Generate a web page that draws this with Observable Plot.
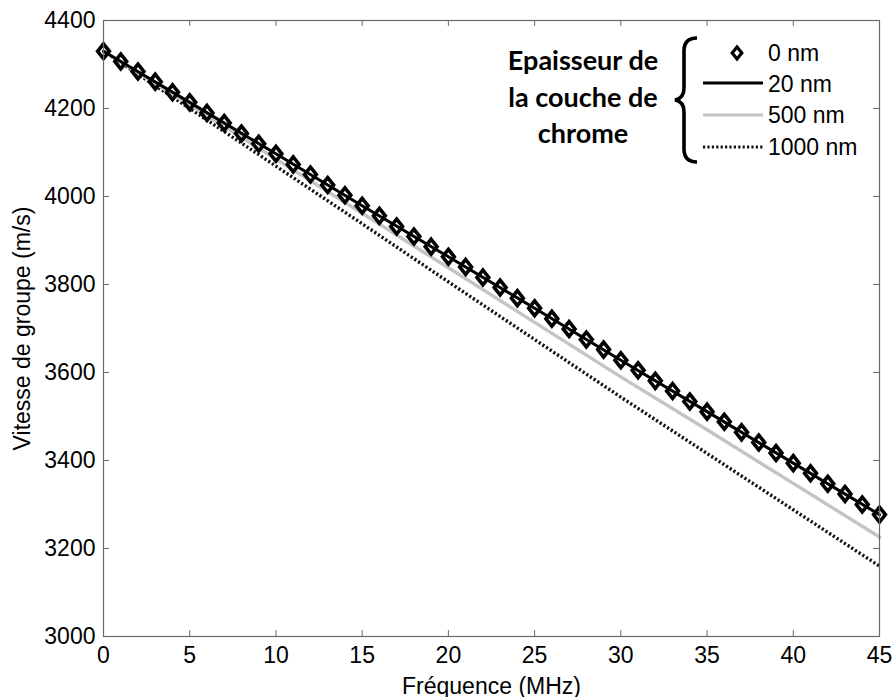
<!DOCTYPE html>
<html><head><meta charset="utf-8">
<script src="https://cdn.jsdelivr.net/npm/d3@7"></script>
<script src="https://cdn.jsdelivr.net/npm/@observablehq/plot@0.6"></script>
<style>
body{margin:0;background:#fff;}
#wrap{position:relative;width:894px;height:697px;}
#wrap svg{display:block;}
#legend{position:absolute;left:0;top:0;}
</style></head><body><div id="wrap"></div>
<script>
// Frequencies (MHz) of the 0 nm markers
const freqMarkers = [0,1,2,3,4,5,6,7,8,9,10,11,12,13,14,15,16,17,18,19,20,21,22,23,24,25,26,27,28,29,30,31,32,33,34,35,36,37,38,39,40,41,42,43,44,45];
// Group velocity (m/s), 0 nm chrome layer
const v0nm = [4330,4307,4284,4261,4237,4214,4190,4167,4143,4120,4097,4073,4050,4026,4003,3979,3956,3932,3909,3886,3863,3840,3816,3793,3769,3746,3722,3699,3675,3652,3628,3605,3581,3558,3534,3511,3488,3464,3441,3417,3394,3371,3347,3324,3300,3277];
// Frequencies (MHz) for the line series
const freqLines = [0,5,10,15,20,25,30,35,40,45];
const v20nm   = [4330,4214,4097,3979,3863,3746,3628,3511,3394,3277];
const v500nm  = [4330,4208,4085,3962,3838,3714,3590,3470,3348,3226];
const v1000nm = [4330,4200,4069,3938,3806,3675,3544,3416,3288,3160];
const xTicks = [0,5,10,15,20,25,30,35,40,45];
const yTicks = [3000,3200,3400,3600,3800,4000,4200,4400];
const seriesLabels = ["0 nm","20 nm","500 nm","1000 nm"];
const legendTitle = ["Epaisseur de","la couche de","chrome"];
const xLabel = "Fréquence (MHz)";
const yLabel = "Vitesse de groupe (m/s)";

const W = 894, H = 697, mL = 103, mR = 15, mT = 20, mB = 61;
const pw = W - mL - mR, ph = H - mT - mB;
const axisColor = "#6a6a6a";
const DH = 7.4, DW = 5.9, DSW = 3.6;

const markers = freqMarkers.map((f, i) => ({f, v: v0nm[i]}));
const mk = arr => freqLines.map((f, i) => ({f, v: arr[i]}));
const l20 = mk(v20nm), l500 = mk(v500nm), l1000 = mk(v1000nm);

const diamond = {draw(ctx) { ctx.moveTo(0, -DH); ctx.lineTo(DW, 0); ctx.lineTo(0, DH); ctx.lineTo(-DW, 0); ctx.closePath(); }};

const chart = Plot.plot({
  width: W, height: H, marginLeft: mL, marginRight: mR, marginTop: mT, marginBottom: mB,
  style: {fontFamily: "'Liberation Sans', Arial, sans-serif", fontSize: "23px", color: "#000", background: "#fff", overflow: "visible"},
  x: {domain: [0, 45]},
  y: {domain: [3000, 4400]},
  marks: [
    Plot.line(l1000, {x: "f", y: "v", stroke: "#111", strokeWidth: 3.4, strokeDasharray: "2.2,2.2", strokeLinecap: "butt"}),
    Plot.line(l500, {x: "f", y: "v", stroke: "#c4c4c4", strokeWidth: 3.4}),
    Plot.line(l20, {x: "f", y: "v", stroke: "#000", strokeWidth: 3}),
    Plot.dot(markers, {x: "f", y: "v", symbol: diamond, stroke: "#000", strokeWidth: DSW, fill: "none"}),
    Plot.tickX(xTicks, {x: d => d, stroke: axisColor, insetTop: ph - 6}),
    Plot.tickX(xTicks, {x: d => d, stroke: axisColor, insetBottom: ph - 6}),
    Plot.tickY(yTicks, {y: d => d, stroke: axisColor, insetRight: pw - 6}),
    Plot.tickY(yTicks, {y: d => d, stroke: axisColor, insetLeft: pw - 6}),
    Plot.frame({stroke: axisColor, strokeWidth: 1.2}),
    Plot.axisX({ticks: xTicks, tickSize: 0, tickPadding: 10, tickFormat: d => String(d), label: xLabel, labelAnchor: "center", labelOffset: 57, labelArrow: "none"}),
    Plot.axisY({ticks: yTicks, tickSize: 0, tickPadding: 8, tickFormat: d => String(d), label: yLabel, labelAnchor: "center", labelOffset: 90, labelArrow: "none"})
  ]
});
document.getElementById("wrap").appendChild(chart);

// Legend overlay
const lg = d3.select("#wrap").append("svg").attr("id", "legend").attr("width", W).attr("height", H);
const titleG = lg.append("g").attr("font-family", "Lato, 'Open Sans', sans-serif").attr("font-weight", "bold").attr("font-size", 27).attr("text-anchor", "middle").attr("fill", "#000");
[70, 107, 143].forEach((y, i) => titleG.append("text").attr("x", 583).attr("y", y).text(legendTitle[i]));
lg.append("path")
  .attr("d", "M 697 38 C 688 38, 684 43, 684 51 L 684 88 C 684 95, 681 99, 675 100 C 681 101, 684 105, 684 112 L 684 149 C 684 157, 688 162, 697 162")
  .attr("fill", "none").attr("stroke", "#000").attr("stroke-width", 3.6);
const rowsY = [53, 83, 115, 147];
lg.append("path").attr("d", `M 737 ${rowsY[0] - 6} L ${737 + 4.8} ${rowsY[0]} L 737 ${rowsY[0] + 6} L ${737 - 4.8} ${rowsY[0]} Z`)
  .attr("fill", "none").attr("stroke", "#000").attr("stroke-width", 3.2);
lg.append("line").attr("x1", 703).attr("x2", 763).attr("y1", rowsY[1]).attr("y2", rowsY[1]).attr("stroke", "#000").attr("stroke-width", 3);
lg.append("line").attr("x1", 703).attr("x2", 763).attr("y1", rowsY[2]).attr("y2", rowsY[2]).attr("stroke", "#c4c4c4").attr("stroke-width", 3.2);
lg.append("line").attr("x1", 703).attr("x2", 763).attr("y1", rowsY[3]).attr("y2", rowsY[3]).attr("stroke", "#111").attr("stroke-width", 3.2).attr("stroke-dasharray", "2.2,2.2");
const lt = lg.append("g").attr("font-family", "'Liberation Sans', Arial, sans-serif").attr("font-size", 23).attr("fill", "#000");
[61, 92, 123, 155].forEach((y, i) => lt.append("text").attr("x", 768).attr("y", y).text(seriesLabels[i]));
</script>
</body></html>
